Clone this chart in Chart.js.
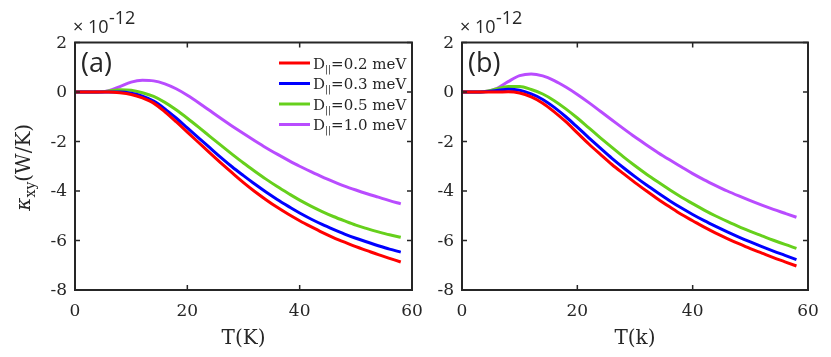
<!DOCTYPE html>
<html>
<head>
<meta charset="utf-8">
<script src="https://cdn.jsdelivr.net/npm/chart.js@4.4.0/dist/chart.umd.min.js"></script>
<style>
body { margin: 0; background: #fff; }
#wrap { position: relative; width: 831px; height: 357px; }
canvas { position: absolute; top: 0; left: 0; }
</style>
</head>
<body>
<div id="wrap">
  <canvas id="chart-a" width="831" height="357"></canvas>
  <canvas id="chart-b" width="831" height="357"></canvas>
</div>
<script>
// temperatures (K)
var temps = [0, 2, 4, 6, 8, 10, 12, 14, 16, 18, 20, 22, 24, 26, 28, 30, 32, 34, 36, 38, 40, 42, 44, 46, 48, 50, 52, 54, 56, 58];

// D_|| values (meV) for the legend
var dValues = ['0.2', '0.3', '0.5', '1.0'];
var seriesColors = ['#ff0000', '#0000ff', '#66d01c', '#b94cff'];

// kappa_xy in units of 1e-12 W/K, panel (a)
var redA    = [0, 0, 0, 0, -0.03, -0.1, -0.24, -0.45, -0.8, -1.2, -1.62, -2.04, -2.46, -2.87, -3.27, -3.66, -4.02, -4.35, -4.66, -4.94, -5.2, -5.44, -5.67, -5.88, -6.07, -6.25, -6.41, -6.57, -6.72, -6.87];
var blueA   = [0, 0, 0, 0, 0, -0.05, -0.17, -0.37, -0.68, -1.05, -1.45, -1.85, -2.25, -2.65, -3.03, -3.38, -3.72, -4.04, -4.34, -4.62, -4.89, -5.13, -5.35, -5.55, -5.74, -5.91, -6.06, -6.21, -6.35, -6.47];
var greenA  = [0, 0, 0, 0.04, 0.09, 0.07, -0.03, -0.18, -0.42, -0.72, -1.06, -1.42, -1.79, -2.16, -2.52, -2.87, -3.2, -3.52, -3.82, -4.1, -4.37, -4.61, -4.83, -5.03, -5.21, -5.38, -5.52, -5.65, -5.77, -5.87];
var purpleA = [0, 0, 0, 0.05, 0.22, 0.4, 0.47, 0.45, 0.33, 0.13, -0.13, -0.43, -0.75, -1.07, -1.38, -1.68, -1.97, -2.25, -2.51, -2.76, -3.0, -3.22, -3.43, -3.62, -3.8, -3.96, -4.11, -4.25, -4.39, -4.52];

// panel (b)
var redB    = [0, 0, 0, 0, 0.01, -0.04, -0.2, -0.45, -0.8, -1.2, -1.65, -2.1, -2.52, -2.93, -3.3, -3.66, -4.0, -4.33, -4.64, -4.94, -5.2, -5.46, -5.7, -5.92, -6.13, -6.33, -6.51, -6.69, -6.86, -7.03];
var blueB   = [0, 0, 0.01, 0.06, 0.11, 0.07, -0.08, -0.3, -0.62, -1.0, -1.42, -1.85, -2.27, -2.68, -3.06, -3.42, -3.76, -4.08, -4.39, -4.68, -4.95, -5.2, -5.43, -5.65, -5.86, -6.06, -6.25, -6.43, -6.6, -6.77];
var greenB  = [0, 0, 0.02, 0.12, 0.22, 0.22, 0.1, -0.08, -0.35, -0.68, -1.05, -1.45, -1.85, -2.24, -2.62, -2.98, -3.32, -3.64, -3.95, -4.24, -4.51, -4.77, -5.01, -5.23, -5.44, -5.63, -5.81, -5.99, -6.16, -6.32];
var purpleB = [0, 0, 0.02, 0.14, 0.42, 0.66, 0.73, 0.65, 0.46, 0.2, -0.1, -0.43, -0.78, -1.13, -1.48, -1.82, -2.14, -2.45, -2.74, -3.02, -3.3, -3.55, -3.78, -4.0, -4.2, -4.39, -4.57, -4.74, -4.9, -5.06];

// axis ticks
var xTicks = [0, 20, 40, 60];
var yTicks = [-8, -6, -4, -2, 0, 2];

var serif = "'DejaVu Serif', serif";
var sans = "'Open Sans', 'Liberation Sans', sans-serif";
var axisColor = '#262626';

// box around the plot area with inward ticks, MATLAB style
var framePlugin = {
  id: 'frame',
  afterDraw: function(chart) {
    var c = chart.ctx, a = chart.chartArea;
    var xs = chart.scales.x, ys = chart.scales.y;
    var o = chart.options.plugins.frame;
    c.save();
    c.strokeStyle = axisColor;
    c.lineWidth = 2;
    c.strokeRect(a.left, a.top, a.right - a.left, a.bottom - a.top);
    c.lineWidth = 1.5;
    c.beginPath();
    xTicks.forEach(function(v) {
      var px = xs.getPixelForValue(v);
      c.moveTo(px, a.bottom); c.lineTo(px, a.bottom - 5);
      c.moveTo(px, a.top); c.lineTo(px, a.top + 5);
    });
    yTicks.forEach(function(v) {
      var py = ys.getPixelForValue(v);
      c.moveTo(a.left, py); c.lineTo(a.left + 5, py);
      c.moveTo(a.right, py); c.lineTo(a.right - 5, py);
    });
    c.stroke();

    // tick labels
    c.fillStyle = axisColor;
    c.font = '17px ' + serif;
    c.textAlign = 'center';
    c.textBaseline = 'alphabetic';
    xTicks.forEach(function(v) {
      c.fillText(String(v), xs.getPixelForValue(v), a.bottom + 26);
    });
    c.textAlign = 'right';
    c.textBaseline = 'middle';
    yTicks.forEach(function(v) {
      c.fillText(String(v), a.left - 8, ys.getPixelForValue(v) + 1);
    });

    // x title
    c.textAlign = 'center';
    c.textBaseline = 'alphabetic';
    c.font = '20px ' + serif;
    c.fillText(o.xTitle, (a.left + a.right) / 2, 344);

    // exponent label above the y axis
    c.textAlign = 'left';
    c.font = '18px ' + sans;
    var ex = a.left - 2;
    c.fillText('\u00d7', ex, 33);
    c.fillText('10', ex + 15, 33);
    c.fillText('-12', ex + 36, 24);

    // panel letter
    c.font = '27px ' + sans;
    c.fillText(o.letter, a.left + 6, 72);

    if (o.yTitle) {
      // rotated kappa_xy(W/K)
      c.save();
      c.translate(30, (a.top + a.bottom) / 2 + 1);
      c.rotate(-Math.PI / 2);
      var f1 = 'italic 20px ' + serif, f2 = '14px ' + serif, f3 = '20px ' + serif;
      c.font = f1; var w1 = c.measureText('\u03ba').width;
      c.font = f2; var w2 = c.measureText('xy').width;
      c.font = f3; var w3 = c.measureText('(W/K)').width;
      var x0 = -(w1 + w2 + w3) / 2;
      c.font = f1; c.fillText('\u03ba', x0, 0);
      c.font = f2; c.fillText('xy', x0 + w1, 5);
      c.font = f3; c.fillText('(W/K)', x0 + w1 + w2, 0);
      c.restore();
    }

    if (o.legend) {
      var rows = [63, 83.5, 104, 124.5];
      chart.data.datasets.forEach(function(ds, i) {
        var y = rows[i];
        c.strokeStyle = ds.borderColor;
        c.lineWidth = 3;
        c.beginPath();
        c.moveTo(279, y); c.lineTo(310, y);
        c.stroke();
        c.fillStyle = axisColor;
        var x = 313;
        c.font = '15px ' + serif;
        c.fillText('D', x, y + 5.5);
        x += c.measureText('D').width;
        c.font = '9px ' + serif;
        c.fillText('||', x, y + 8.5);
        x += c.measureText('||').width;
        c.font = '15px ' + serif;
        c.fillText('=' + dValues[i] + ' meV', x, y + 5.5);
      });
    }
    c.restore();
  }
};

function makePanel(id, series, opts) {
  var datasets = series.map(function(vals, i) {
    return {
      label: 'D=' + dValues[i] + ' meV',
      data: temps.map(function(t, j) { return { x: t, y: vals[j] }; }),
      borderColor: seriesColors[i],
      borderWidth: 3,
      pointRadius: 0,
      cubicInterpolationMode: 'monotone',
      fill: false
    };
  });
  return new Chart(document.getElementById(id), {
    type: 'line',
    data: { datasets: datasets },
    options: {
      responsive: false,
      animation: false,
      layout: { padding: { left: opts.left, right: opts.right, top: 42.5, bottom: 67 } },
      plugins: {
        legend: { display: false },
        tooltip: { enabled: false },
        frame: { letter: opts.letter, yTitle: opts.yTitle, legend: opts.legend, xTitle: opts.xTitle }
      },
      scales: {
        x: {
          type: 'linear', min: 0, max: 60,
          afterFit: function(s) { s.height = 0; },
          grid: { display: false, drawTicks: false },
          border: { display: false },
          ticks: { display: false, stepSize: 20 }
        },
        y: {
          type: 'linear', min: -8, max: 2,
          afterFit: function(s) { s.width = 0; },
          grid: { display: false, drawTicks: false },
          border: { display: false },
          ticks: { display: false, stepSize: 2 }
        }
      }
    },
    plugins: [framePlugin]
  });
}

makePanel('chart-a', [redA, blueA, greenA, purpleA], { left: 75, right: 419, letter: '(a)', yTitle: true, legend: true, xTitle: 'T(K)' });
makePanel('chart-b', [redB, blueB, greenB, purpleB], { left: 462, right: 23, letter: '(b)', yTitle: false, legend: false, xTitle: 'T(k)' });
</script>
</body>
</html>
